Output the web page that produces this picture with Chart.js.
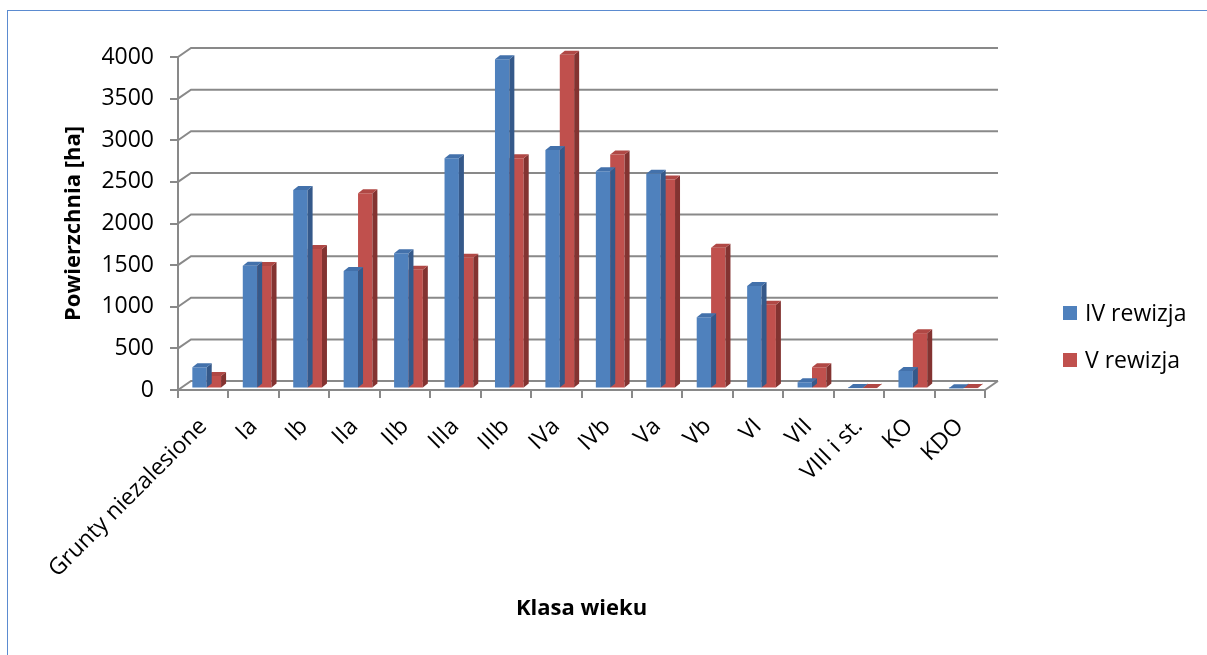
<!DOCTYPE html>
<html>
<head>
<meta charset="utf-8">
<script src="https://cdn.jsdelivr.net/npm/chart.js@4"></script>
<style>
  body { margin: 0; background: #fff; }
  #frame { position: absolute; left: 7px; top: 10px; width: 1220px; height: 680px; border: 1.5px solid #5B8BD0; pointer-events: none; }
  #myChart { position: absolute; left: 0; top: 0; }
</style>
</head>
<body>
<canvas id="myChart" width="1207" height="655"></canvas>
<div id="frame"></div>
<script>
// Klasy wieku
const categories = ['Grunty niezalesione', 'Ia', 'Ib', 'IIa', 'IIb', 'IIIa', 'IIIb', 'IVa', 'IVb', 'Va', 'Vb', 'VI', 'VII', 'VIII i st.', 'KO', 'KDO'];
// Powierzchnia [ha]
const rewizja4 = [255, 1475, 2385, 1410, 1625, 2765, 3955, 2865, 2610, 2580, 855, 1230, 75, 5, 210, 3];
const rewizja5 = [150, 1470, 1675, 2345, 1425, 1570, 2765, 4010, 2810, 2510, 1690, 1005, 255, 5, 665, 5];
const seriesNames = ['IV rewizja', 'V rewizja'];

const gridColor = '#898989';
const depthX = 13, depthY = 9;   // back wall offset
const barDX = 5, barDY = 4;      // bar depth
const faces = [
  { front: '#4F81BD', top: '#4371AB', side: '#35598A' },
  { front: '#C0504D', top: '#B04845', side: '#833331' }
];

// sciany 3D: siatka na tylnej scianie
const wallPlugin = {
  id: 'wall',
  beforeDatasetsDraw(chart) {
    const ctx = chart.ctx;
    const area = chart.chartArea;
    const y = chart.scales.y;
    ctx.save();
    ctx.strokeStyle = gridColor;
    ctx.lineWidth = 2;
    y.ticks.forEach(t => {
      const py = y.getPixelForValue(t.value);
      ctx.beginPath();
      ctx.moveTo(area.left, py);
      ctx.lineTo(area.left + depthX, py - depthY);
      ctx.lineTo(area.right + depthX, py - depthY);
      ctx.stroke();
    });
    const py0 = y.getPixelForValue(0);
    ctx.beginPath();
    ctx.moveTo(area.right, py0);
    ctx.lineTo(area.right + depthX, py0 - depthY);
    ctx.stroke();
    ctx.restore();
  },
  beforeDatasetDraw(chart) {
    chart.ctx.save();
    chart.ctx.translate(3.5, -1.5);
  },
  afterDatasetDraw(chart, args) {
    const ctx = chart.ctx;
    const f = faces[args.index];
    args.meta.data.forEach(el => {
      const {x, y, base, width} = el.getProps(['x', 'y', 'base', 'width'], true);
      const l = x - width / 2, r = x + width / 2;
      ctx.fillStyle = f.side;
      ctx.beginPath();
      ctx.moveTo(r, y);
      ctx.lineTo(r + barDX, y - barDY);
      ctx.lineTo(r + barDX, base - barDY);
      ctx.lineTo(r, base);
      ctx.closePath();
      ctx.fill();
      ctx.fillStyle = f.top;
      ctx.beginPath();
      ctx.moveTo(l, y);
      ctx.lineTo(l + barDX, y - barDY);
      ctx.lineTo(r + barDX, y - barDY);
      ctx.lineTo(r, y);
      ctx.closePath();
      ctx.fill();
    });
    ctx.restore();
  },
  afterDraw(chart) {
    // legenda
    const ctx = chart.ctx;
    ctx.save();
    ctx.font = '23px "Open Sans"';
    ctx.textBaseline = 'middle';
    chart.data.datasets.forEach((ds, i) => {
      const cy = 313 + i * 47;
      ctx.fillStyle = ds.backgroundColor;
      ctx.fillRect(1063, cy - 7, 14, 14);
      ctx.fillStyle = '#000';
      ctx.fillText(ds.label, 1085, cy + 1);
    });
    ctx.restore();
  }
};

new Chart('myChart', {
  type: 'bar',
  data: {
    labels: categories,
    datasets: [{
      label: seriesNames[0],
      data: rewizja4,
      backgroundColor: faces[0].front,
      clip: false,
      categoryPercentage: 0.57,
      barPercentage: 1
    }, {
      label: seriesNames[1],
      data: rewizja5,
      backgroundColor: faces[1].front,
      clip: false,
      categoryPercentage: 0.57,
      barPercentage: 1
    }]
  },
  options: {
    responsive: false,
    animation: false,
    layout: { padding: { left: 0, right: 222, top: 57, bottom: 0 } },
    plugins: {
      legend: { display: false },
      tooltip: { enabled: false }
    },
    scales: {
      x: {
        grid: { display: true, drawOnChartArea: false, offset: true, tickLength: 8, color: gridColor, lineWidth: 2 },
        border: { display: true, color: gridColor, width: 2 },
        ticks: { color: '#000', font: { family: 'Open Sans', size: 23 }, minRotation: 45, maxRotation: 45, autoSkip: false, padding: 15 },
        title: { display: true, text: 'Klasa wieku', color: '#000', font: { family: 'Open Sans', size: 22, weight: 'bold' }, padding: { top: 0, bottom: 33 } },
        afterFit(scale) { scale.height = 265; }
      },
      y: {
        min: 0,
        max: 4000,
        grid: { display: true, drawOnChartArea: false, tickLength: 8, color: gridColor, lineWidth: 2 },
        border: { display: true, color: gridColor, width: 2 },
        ticks: { stepSize: 500, color: '#000', font: { family: 'Open Sans', size: 23 }, padding: 16, callback: v => String(v) },
        title: { display: true, text: 'Powierzchnia [ha]', color: '#000', font: { family: 'Open Sans', size: 22, weight: 'bold' }, padding: { top: 61, bottom: 0 } },
        afterFit(scale) { scale.width = 178; }
      }
    }
  },
  plugins: [wallPlugin]
});
</script>
</body>
</html>
